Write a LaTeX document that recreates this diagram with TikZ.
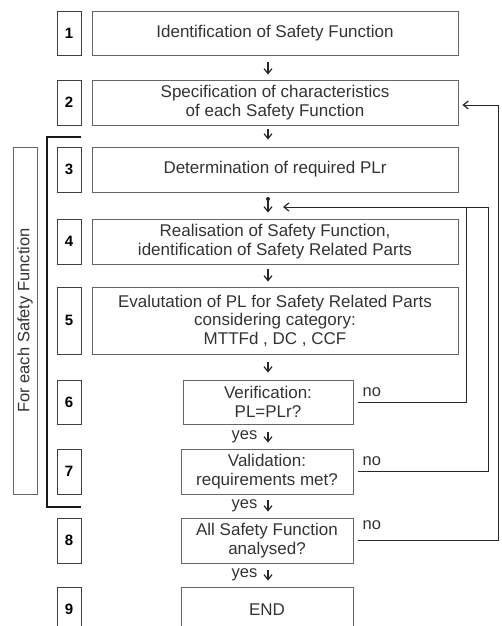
\documentclass[tikz,border=0pt]{standalone}
\usepackage{fontspec}
\setmainfont{Liberation Sans}
\usepackage{tikz}
\usetikzlibrary{arrows.meta, calc}

\tikzset{
  stagebox/.style={draw=black!60, line width=0.8pt, inner sep=0pt, align=center,
    text=black!80, font=\fontsize{17}{18.5}\selectfont},
  numbox/.style={draw=black!75, line width=0.8pt, minimum width=24pt, inner sep=0pt,
    font=\fontsize{15}{17}\selectfont\bfseries},
  lbl/.style={text=black!80, inner sep=0pt, font=\fontsize{16.5}{18.5}\selectfont},
  flow/.style={-{Straight Barb[length=5pt,width=8pt,line width=1.2pt]}, line width=1.2pt, black!85},
  link/.style={line width=0.9pt, black!85},
  bracket/.style={line width=1.8pt, black!90}
}

\begin{document}
\begin{tikzpicture}[x=1pt, y=-1pt]
        \useasboundingbox (0,0) rectangle (501,626);

        % steps
        \node[stagebox, minimum width=366pt, minimum height=44pt] (b1) at (275,33) {Identification of Safety Function};
        \node[stagebox, minimum width=366pt, minimum height=45pt] (b2) at (275,102.5) {Specification of characteristics\\of each Safety Function};
        \node[stagebox, minimum width=366pt, minimum height=45pt] (b3) at (275,169.5) {Determination of required PLr};
        \node[stagebox, minimum width=366pt, minimum height=45pt] (b4) at (275,241.5) {Realisation of Safety Function,\\identification of Safety Related Parts};
        \node[stagebox, minimum width=366pt, minimum height=67pt] (b5) at (275,320.5) {Evalutation of PL for Safety Related Parts\\considering category:\\MTTFd , DC , CCF};
        \node[stagebox, minimum width=170pt, minimum height=44pt] (b6) at (268,402) {Verification:\\PL=PLr?};
        \node[stagebox, minimum width=172pt, minimum height=45pt] (b7) at (267,471.5) {Validation:\\requirements met?};
        \node[stagebox, minimum width=172pt, minimum height=45pt] (b8) at (267,540.5) {All Safety Function\\analysed?};
        \node[stagebox, minimum width=172pt, minimum height=45pt] (b9) at (267,609.5) {END};

        \foreach \n/\y/\h in {1/33/44, 2/102.5/45, 3/169.5/45, 4/241.5/45, 5/320.5/67, 6/402/44, 7/471.5/45, 8/540.5/45, 9/609.5/45}
            \node[numbox, minimum height=\h pt] (n\n) at (69,\y) {\n};

        % loop marker
        \node[draw=black!60, line width=0.8pt, lbl, rotate=90, minimum width=347pt, minimum height=24pt] (each) at (25,320.5) {For each Safety Function};
        \draw[bracket] (81,137) -- (47,137) -- (47,507) -- (81,507);

        \coordinate (axis) at (268,0);
        \coordinate (join) at (268,199);
        \coordinate (hook) at (283,207);
        \coordinate (r6) at (466,207);
        \coordinate (r7) at (488,207);
        \coordinate (r8) at (498,105);

        \draw[flow, shorten <=7pt, shorten >=5pt] (b1.south -| axis) -- (b2.north -| axis);
        \draw[flow, shorten <=4pt, shorten >=7pt] (b2.south -| axis) -- (b3.north -| axis);
        \fill[black!85] (join) circle (2pt);
        \draw[flow, shorten >=6pt] (join) -- (b4.north -| axis);
        \draw[flow, shorten <=5pt, shorten >=5pt] (b4.south -| axis) -- (b5.north -| axis);
        \draw[flow, shorten <=8pt, shorten >=7pt] (b5.south -| axis) -- (b6.north -| axis);
        \draw[flow, shorten <=8pt, shorten >=6pt] (b6.south -| axis) -- node[lbl, left=10pt] (yes6) {yes} (b7.north -| axis);
        \draw[flow, shorten <=6pt, shorten >=6pt] (b7.south -| axis) -- node[lbl, left=10pt] (yes7) {yes} (b8.north -| axis);
        \draw[flow, shorten <=7pt, shorten >=6pt] (b8.south -| axis) -- node[lbl, left=10pt] (yes8) {yes} (b9.north -| axis);

        % back loops
        \draw[link, shorten <=5pt] (b6.east) -| (r6);
        \draw[link, shorten <=5pt] (b7.east) -| (r7);
        \draw[flow, line width=0.9pt] (r7) -- (hook);
        \draw[flow, line width=0.9pt, shorten <=5pt, shorten >=4pt] (b8.east) -| (r8) -- (r8 -| b2.east);
        \node[lbl, anchor=south west] (no6) at ([xshift=9pt,yshift=5pt]b6.east) {no};
        \node[lbl, anchor=south west] (no7) at ([xshift=9pt,yshift=5.5pt]b7.east) {no};
        \node[lbl, anchor=south west] (no8) at ([xshift=9pt,yshift=11pt]b8.east) {no};
    \end{tikzpicture}
\end{document}
